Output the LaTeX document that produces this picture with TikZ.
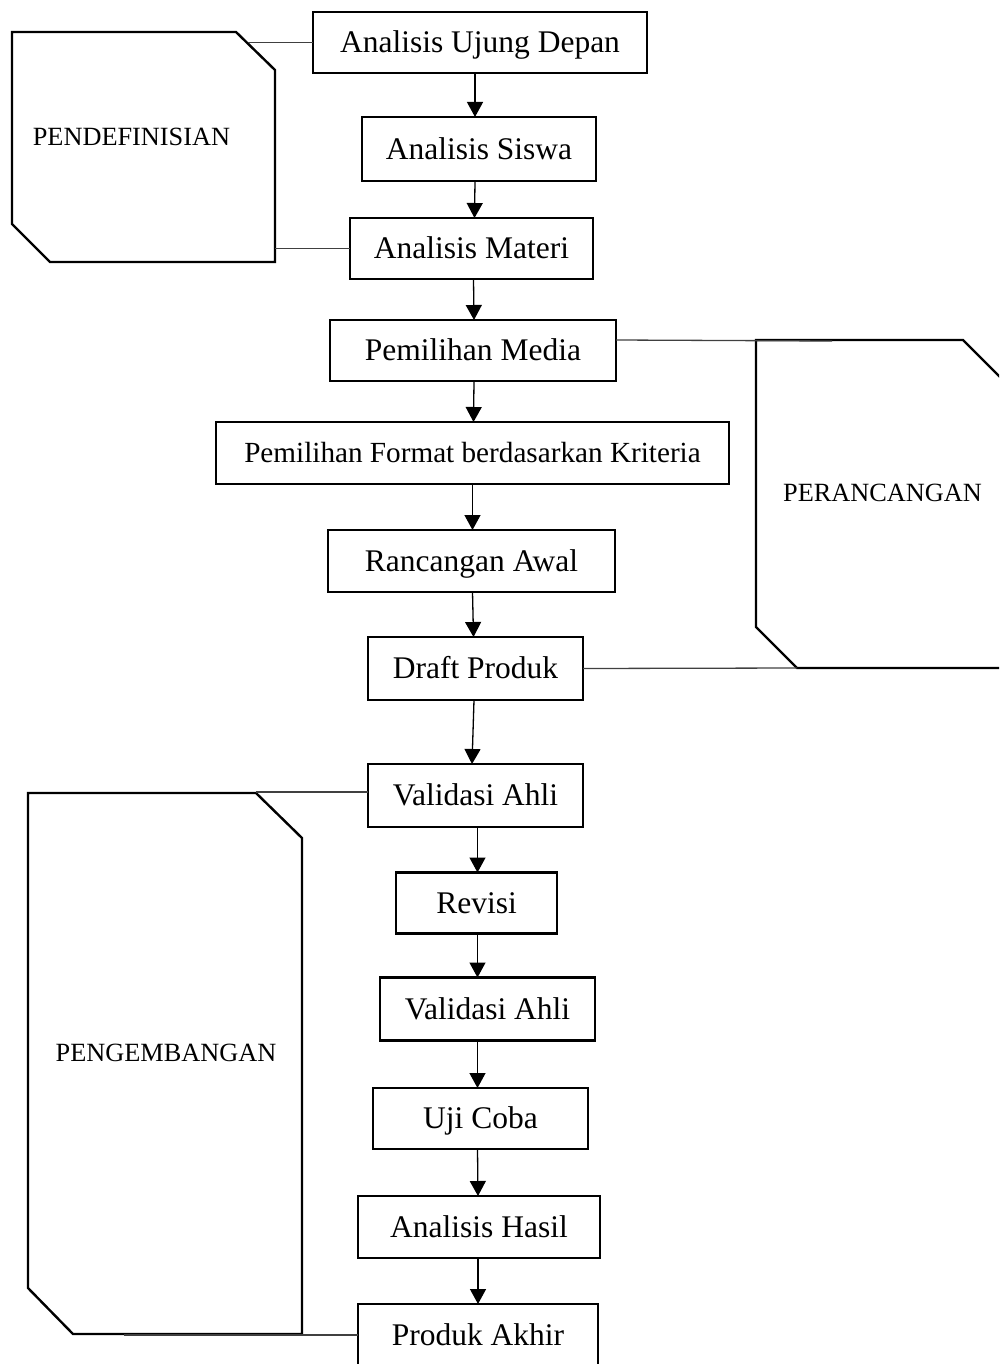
\documentclass[tikz,border=0pt]{standalone}
\usepackage{fontspec}
\setmainfont{Liberation Serif}
\usetikzlibrary{arrows.meta}
\tikzset{
  box/.style={draw=black, line width=2.4pt, inner sep=0pt, outer sep=0pt, align=center,
    text height=20.9pt, text depth=0pt, font=\fontsize{31.5}{36}\selectfont},
  smallbox/.style={box, text height=19.3pt, font=\fontsize{29.2}{34}\selectfont},
  phase/.style={draw=black, line width=2.4pt, line join=miter},
  phaselabel/.style={inner sep=0pt, text height=17.4pt, text depth=0pt, font=\fontsize{26.3}{30}\selectfont},
  arr/.style={draw=black, line width=1.3pt, -{Triangle[width=16pt,length=15pt]}},
  link/.style={draw=black!75, line width=1.3pt}
}
\begin{document}
\begin{tikzpicture}[x=1pt,y=-1pt]
\useasboundingbox (0,0) rectangle (999,1364);
\clip (0,0) rectangle (999,1364);
% phase shapes
\draw[phase] (12,32) -- (236,32) -- (275,70) -- (275,262) -- (50,262) -- (12,224) -- cycle;
\draw[phase] (756,340) -- (963,340) -- (1005,382) -- (1005,668) -- (797,668) -- (756,627) -- cycle;
\draw[phase] (28,793) -- (256,793) -- (302,838) -- (302,1334) -- (73,1334) -- (28,1288) -- cycle;
\node[phaselabel] (lbl1) at (131.5,136.5) {PENDEFINISIAN};
\node[phaselabel] (lbl2) at (882.5,493) {PERANCANGAN};
\node[phaselabel] (lbl3) at (166,1052.5) {PENGEMBANGAN};
% boxes
\node[box, minimum width=334pt, minimum height=61pt] (AUD) at (480,42.5) {Analisis Ujung Depan};
\node[box, minimum width=234pt, minimum height=64pt] (AS) at (479,149) {Analisis Siswa};
\node[box, minimum width=243pt, minimum height=61pt] (AM) at (471.5,248.5) {Analisis Materi};
\node[box, minimum width=286pt, minimum height=61pt] (PM) at (473,350.5) {Pemilihan Media};
\node[smallbox, minimum width=513pt, minimum height=62pt] (PF) at (472.5,453) {Pemilihan Format berdasarkan Kriteria};
\node[box, minimum width=287pt, minimum height=62pt] (RA) at (471.5,561) {Rancangan Awal};
\node[box, minimum width=215pt, minimum height=63pt] (DP) at (475.5,668.5) {Draft Produk};
\node[box, minimum width=215pt, minimum height=63pt] (VA1) at (475.5,795.5) {Validasi Ahli};
\node[box, minimum width=161pt, minimum height=61pt] (RV) at (476.5,903) {Revisi};
\node[box, minimum width=215pt, minimum height=63pt] (VA2) at (487.5,1009) {Validasi Ahli};
\node[box, minimum width=215pt, minimum height=61pt] (UC) at (480.5,1118.5) {Uji Coba};
\node[box, minimum width=242pt, minimum height=62pt] (AH) at (479,1227) {Analisis Hasil};
\node[box, minimum width=240pt, minimum height=62pt] (PA) at (478,1335) {Produk Akhir};
% connector end points on the phase shapes
\coordinate (d1) at (248,42.5);
\coordinate (d2) at (275,248.5);
\coordinate (p1) at (832,341);
\coordinate (p2) at (797,668);
\coordinate (g1) at (256,792);
\coordinate (g2) at (124,1335);
\draw[link] (AUD.west) -- (d1);
\draw[link] (AM.west) -- (d2);
\draw[link] ([yshift=10.5pt]PM.east) -- (p1);
\draw[link] (DP.east) -- (p2);
\draw[link] ([yshift=3.5pt]VA1.west) -- (g1);
\draw[link] (PA.west) -- (g2);
% arrows
\draw[arr] ([xshift=-5pt]AUD.south) -- ([xshift=-4pt]AS.north);
\draw[arr] ([xshift=-4pt]AS.south) -- ([xshift=3pt]AM.north);
\draw[arr] ([xshift=2pt]AM.south) -- ([xshift=1pt]PM.north);
\draw[arr] ([xshift=1pt]PM.south) -- ([xshift=1pt]PF.north);
\draw[arr] (PF.south) -- ([xshift=1pt]RA.north);
\draw[arr] ([xshift=1pt]RA.south) -- ([xshift=-2pt]DP.north);
\draw[arr] ([xshift=-1.5pt]DP.south) -- ([xshift=-3.5pt]VA1.north);
\draw[arr] ([xshift=2pt]VA1.south) -- ([xshift=1pt]RV.north);
\draw[arr] ([xshift=1pt]RV.south) -- ([xshift=-10pt]VA2.north);
\draw[arr] ([xshift=-10pt]VA2.south) -- ([xshift=-3pt]UC.north);
\draw[arr] ([xshift=-3pt]UC.south) -- ([xshift=-1pt]AH.north);
\draw[arr] ([xshift=-1pt]AH.south) -- ([xshift=0pt]PA.north);
\end{tikzpicture}
\end{document}
